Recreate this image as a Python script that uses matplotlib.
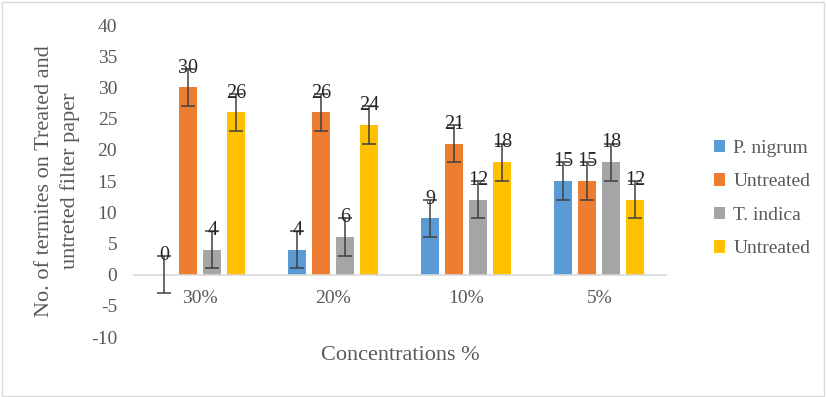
import matplotlib
matplotlib.use("Agg")
import matplotlib.pyplot as plt
import numpy as np
from matplotlib.patches import Rectangle

categories = ["30%", "20%", "10%", "5%"]
series_names = ["P. nigrum", "Untreated", "T. indica", "Untreated"]
p_nigrum = [0, 4, 9, 15]
untreated1 = [30, 26, 21, 15]
t_indica = [4, 6, 12, 18]
untreated2 = [26, 24, 18, 12]
errors = [3, 3, 3, 3]
colors = ["#5B9BD5", "#ED7D31", "#A5A5A5", "#FFC000"]
yticks = [-10, -5, 0, 5, 10, 15, 20, 25, 30, 35, 40]

plt.rcParams['font.family'] = ['Liberation Serif', 'DejaVu Serif']

fig = plt.figure(figsize=(8.26, 3.97), dpi=100)
ax = fig.add_axes([0.162, 0.151, 0.644, 0.786])

x = np.arange(len(categories))
width = 0.135
step = 0.18
all_series = [p_nigrum, untreated1, t_indica, untreated2]
for k, (vals, name, col) in enumerate(zip(all_series, series_names, colors)):
    pos = x + (k - 1.5) * step
    ax.bar(pos, vals, width, color=col, label=name, zorder=2)
    ax.errorbar(pos, vals, yerr=errors, fmt='none', ecolor='#404040',
                elinewidth=1.1, capsize=5, capthick=1.1, zorder=3)
    for p, v in zip(pos, vals):
        ax.text(p, v + 3.1, str(v), ha='center', va='center', fontsize=14.5,
                color='#262626', zorder=4)

ax.set_xlim(-0.5, len(categories) - 0.5)
ax.set_ylim(-10, 40)
for s in ['top', 'right', 'left']:
    ax.spines[s].set_visible(False)
ax.spines['bottom'].set_position(('data', 0))
ax.spines['bottom'].set_color('#D9D9D9')
ax.spines['bottom'].set_linewidth(1.2)

ax.set_yticks(yticks)
ax.set_yticklabels([str(t) for t in yticks])
ax.set_xticks(x)
ax.set_xticklabels(categories)
ax.tick_params(axis='both', length=0, labelsize=14, labelcolor='#595959')
ax.tick_params(axis='y', pad=12)
ax.tick_params(axis='x', pad=11)

ax.set_ylabel("No. of termites on Treated and\nuntreted filter paper", fontsize=16,
              color='#595959', labelpad=8, linespacing=1.4)
fig.text(0.485, 0.105, "Concentrations %", ha='center', va='center', fontsize=16,
         color='#595959')

leg = fig.legend(loc='center left', bbox_to_anchor=(0.843, 0.5), frameon=False,
                 fontsize=14, handlelength=0.6, handleheight=0.6, handletextpad=0.4,
                 labelspacing=0.85)
for t in leg.get_texts():
    t.set_color('#595959')

fig.patches.append(Rectangle((0.002, 0.003), 0.995, 0.993, transform=fig.transFigure,
                             fill=False, edgecolor='#D9D9D9', linewidth=1))

fig.savefig("out.png", dpi=100)
